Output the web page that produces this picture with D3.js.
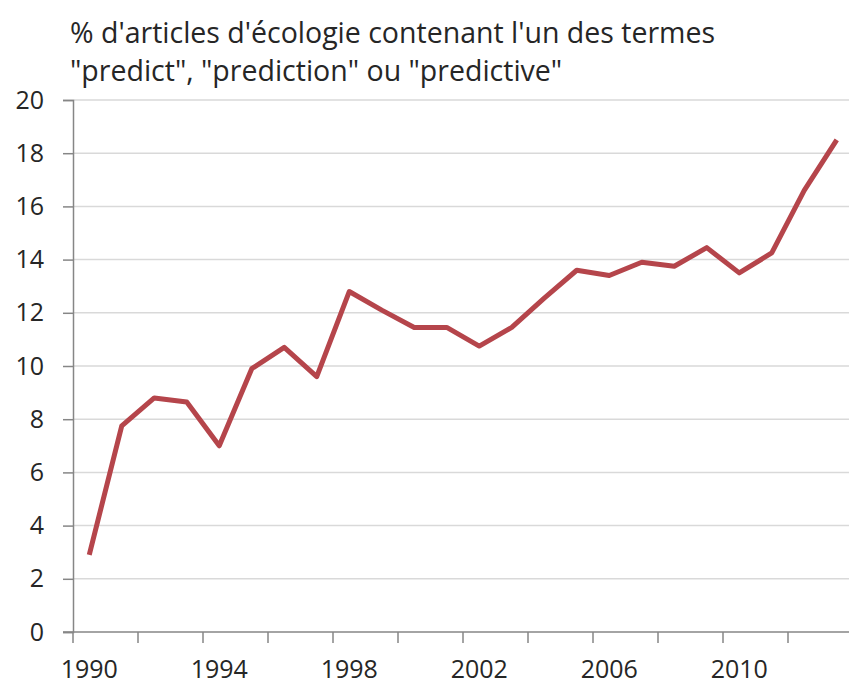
<!DOCTYPE html>
<html>
<head>
<meta charset="utf-8">
<script src="https://cdn.jsdelivr.net/npm/d3@7"></script>
<style>
  body { margin: 0; background: #fff; }
  #chart { width: 849px; height: 684px; }
  text { font-family: "Open Sans", sans-serif; fill: #262626; }
</style>
</head>
<body>
<div id="chart"></div>
<script>
// Data
const years = d3.range(1990, 2014);
const shares = [2.9, 7.75, 8.8, 8.65, 7.0, 9.9, 10.7, 9.6, 12.8, 12.1, 11.45, 11.45,
                10.75, 11.45, 12.55, 13.6, 13.4, 13.9, 13.75, 14.45, 13.5, 14.25, 16.6, 18.5];
const yTicks = [0, 2, 4, 6, 8, 10, 12, 14, 16, 18, 20];
const xLabels = [1990, 1994, 1998, 2002, 2006, 2010];
const titleLines = ["% d'articles d'écologie contenant l'un des termes",
                    "\"predict\", \"prediction\" ou \"predictive\""];

const width = 849, height = 684;
const margin = {top: 100, left: 73, bottom: 52};

const svg = d3.select("#chart").append("svg")
    .attr("width", width)
    .attr("height", height);

// Category axis: one band per year, runs past the right edge like the original
const x = d3.scaleBand()
    .domain(years)
    .range([margin.left, margin.left + years.length * 32.5]);

const y = d3.scaleLinear()
    .domain([0, 20])
    .range([height - margin.bottom, margin.top]);

// Gridlines
svg.append("g")
    .selectAll("line")
    .data(yTicks.filter(d => d > 0))
    .join("line")
    .attr("x1", margin.left)
    .attr("x2", width)
    .attr("y1", d => y(d))
    .attr("y2", d => y(d))
    .attr("stroke", "#d9d9d9")
    .attr("stroke-width", 1.5);

// Y axis
const yAxis = svg.append("g")
    .attr("transform", `translate(${margin.left},0)`)
    .call(d3.axisLeft(y).tickValues(yTicks).tickSize(10).tickPadding(19));
yAxis.select(".domain").attr("stroke", "#868686").attr("stroke-width", 1.5);
yAxis.selectAll(".tick line").attr("stroke", "#868686").attr("stroke-width", 1.5);
yAxis.selectAll("text").style("font-size", "25px").attr("fill", "#262626");

// X axis line and boundary ticks every 2 categories
const xAxis = svg.append("g")
    .attr("transform", `translate(0,${y(0)})`);
xAxis.append("line")
    .attr("x1", margin.left - 10)
    .attr("x2", width)
    .attr("stroke", "#868686")
    .attr("stroke-width", 1.5);
xAxis.selectAll(".bound")
    .data(years.filter(d => (d - 1990) % 2 === 0))
    .join("line")
    .attr("class", "bound")
    .attr("x1", d => x(d))
    .attr("x2", d => x(d))
    .attr("y1", 0)
    .attr("y2", 11)
    .attr("stroke", "#868686")
    .attr("stroke-width", 1.5);

// X labels centred on their category
const xLab = svg.append("g")
    .attr("transform", `translate(0,${y(0)})`)
    .call(d3.axisBottom(x).tickValues(xLabels).tickSize(0).tickPadding(28));
xLab.select(".domain").remove();
xLab.selectAll("text").style("font-size", "25px").attr("fill", "#262626");

// Line
const line = d3.line()
    .x((d, i) => x(years[i]) + x.bandwidth() / 2)
    .y(d => y(d));

svg.append("path")
    .datum(shares)
    .attr("d", line)
    .attr("fill", "none")
    .attr("stroke", "#b5454b")
    .attr("stroke-width", 5)
    .attr("stroke-linejoin", "round");

// Title
svg.append("g")
    .selectAll("text")
    .data(titleLines)
    .join("text")
    .attr("x", 70)
    .attr("y", (d, i) => 43 + i * 38)
    .style("font-size", "28.5px")
    .text(d => d);
</script>
</body>
</html>
